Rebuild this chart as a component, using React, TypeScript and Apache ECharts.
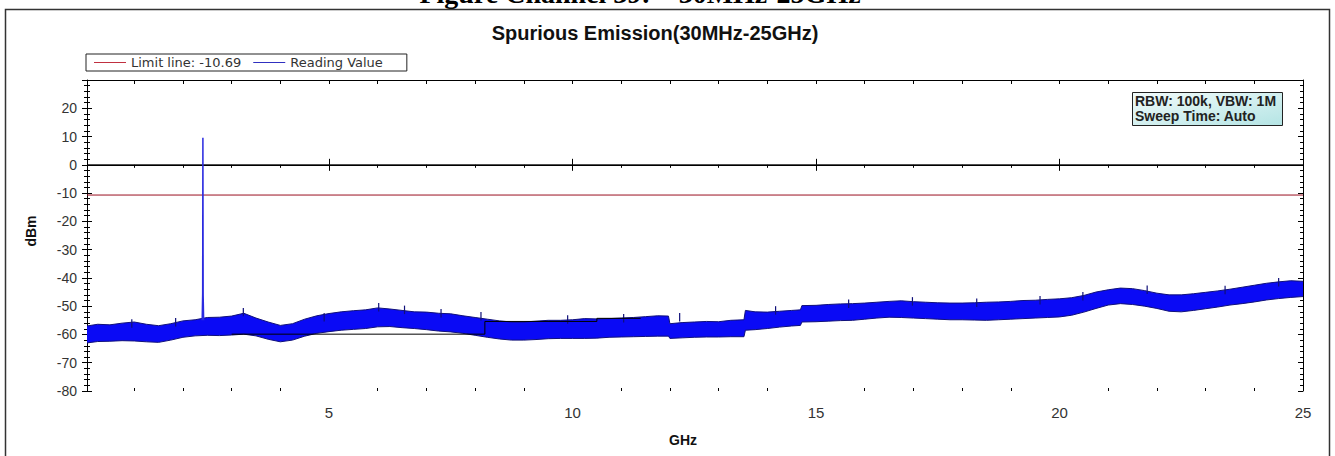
import React, { useEffect, useRef } from "react";
import * as echarts from "echarts";

// ---- data ----
const freqGHz = [
  0.03, 0.25, 0.5, 0.75, 1.0, 1.25, 1.5, 1.75, 2.0, 2.25, 2.5, 2.75, 3.0, 3.25, 3.5, 3.75, 4.0, 4.25, 4.5, 4.75,
  5.0, 5.25, 5.5, 5.75, 6.0, 6.25, 6.5, 6.75, 7.0, 7.25, 7.5, 7.75, 8.0, 8.25, 8.5, 8.75, 9.0, 9.25, 9.5, 9.75,
  10.0, 10.25, 10.5, 10.75, 11.0, 11.25, 11.5, 11.75, 11.97, 12.0, 12.25, 12.5, 12.75, 13.0, 13.25, 13.52, 13.55,
  13.75, 14.0, 14.25, 14.5, 14.68, 14.71, 15.0, 15.25, 15.5, 15.75, 16.0, 16.25, 16.5, 16.75, 17.0, 17.25, 17.5,
  17.75, 18.0, 18.25, 18.5, 18.75, 19.0, 19.25, 19.5, 19.75, 20.0, 20.25, 20.5, 20.75, 21.0, 21.25, 21.5, 21.75,
  22.0, 22.25, 22.5, 22.75, 23.0, 23.25, 23.5, 23.75, 24.0, 24.25, 24.5, 24.75, 25.0,
];
const readingTop = [
  -57.0, -56.4, -56.6, -56.0, -55.6, -56.4, -56.9, -56.2, -55.2, -54.8, -54.0, -53.9, -53.5, -52.5, -54.2, -55.6,
  -56.8, -56.2, -54.6, -53.4, -52.6, -52.0, -51.6, -51.3, -50.6, -51.0, -51.5, -52.0, -52.1, -52.5, -52.7, -53.4,
  -54.0, -54.6, -55.2, -55.6, -55.6, -55.3, -55.0, -55.0, -54.8, -54.4, -54.5, -54.4, -54.2, -54.0, -53.7, -53.4,
  -53.5, -56.2, -55.8, -55.6, -55.4, -55.5, -55.0, -54.8, -51.5, -52.0, -52.1, -51.8, -51.5, -51.3, -49.8, -49.7,
  -49.4, -49.2, -49.1, -48.9, -48.6, -48.3, -48.1, -48.4, -48.6, -48.8, -48.9, -48.9, -48.8, -48.6, -48.5, -48.3,
  -48.0, -47.9, -47.6, -47.4, -47.0, -46.2, -45.0, -44.2, -43.6, -43.8, -44.5, -45.4, -46.0, -46.0, -45.6, -45.1,
  -44.6, -44.0, -43.3, -42.6, -41.9, -41.4, -41.0, -41.2,
];
const readingBottom = [
  -63.0, -62.5, -62.4, -62.2, -62.3, -62.6, -62.8, -62.0, -61.0, -60.5, -60.3, -60.4, -60.2, -59.9, -60.5, -61.7,
  -62.6, -62.0, -60.6, -59.6, -59.0, -58.5, -58.2, -57.9, -57.3, -57.2, -57.6, -57.9, -58.3, -58.8, -59.1, -59.6,
  -60.3, -61.0, -61.6, -62.0, -62.0, -61.8, -61.5, -61.4, -61.4, -61.4, -61.3, -61.0, -60.9, -60.8, -60.7, -60.6,
  -60.6, -61.4, -61.2, -61.0, -60.9, -60.9, -60.8, -60.8, -58.5, -58.3, -57.9, -57.4, -57.0, -56.8, -55.6, -55.5,
  -55.3, -55.1, -55.0, -54.6, -54.2, -53.9, -54.0, -54.2, -54.4, -54.6, -54.8, -54.8, -54.9, -55.0, -54.8, -54.6,
  -54.4, -54.2, -54.0, -53.8, -53.2, -52.1, -50.8, -49.6, -49.1, -49.4, -50.0, -50.8, -51.8, -52.0, -51.5, -50.9,
  -50.3, -49.6, -49.1, -48.5, -47.8, -47.3, -46.9, -46.6,
];
// isolated noise peaks standing above the band
const peakFreq = [0.95, 1.85, 3.24, 4.9, 6.02, 6.55, 7.3, 8.12, 9.9, 11.05, 12.2, 14.17, 15.67, 16.98, 18.3, 19.6, 20.48, 21.8, 23.4, 24.5];
const peakLevel = [-54.6, -54.2, -50.6, -52.4, -48.9, -49.8, -51.0, -52.1, -53.2, -52.8, -52.4, -50.0, -47.6, -46.8, -47.3, -46.4, -45.0, -42.7, -42.8, -40.0];
const spikeFreq = [2.395, 2.405, 2.41, 2.415, 2.425];
const spikeLevel = [-55.0, -45.5, 9.6, -46.0, -55.0];
const blackTraceFreq = [3.0, 8.2, 8.2, 10.5, 10.5, 11.4];
const blackTraceLevel = [-59.9, -59.9, -55.4, -55.4, -54.3, -54.3];
const limitValue = -10.69;
const zeroValue = 0;
const xRange = [0.03, 25];
const xMajorTicks = [5, 10, 15, 20, 25];
const xMinorTicks = [1, 2, 3, 4, 6, 7, 8, 9, 11, 12, 13, 14, 16, 17, 18, 19, 21, 22, 23, 24];
const xTopTicks = [1, 2, 3, 4, 5, 6, 7, 8, 9, 10, 11, 12, 13, 14, 15, 16, 17, 18, 19, 20, 21, 22, 23, 24];
const yMin = -80;
const yMax = 30;
const yInterval = 10;

const LIMIT_NAME = "Limit line: -10.69";
const READING_NAME = "Reading Value";
const SANS = "Liberation Sans";

export default function App() {
  const ref = useRef<HTMLDivElement>(null);

  useEffect(() => {
    if (!ref.current) return;
    const chart = echarts.init(ref.current, undefined, { renderer: "svg" });

    const pair = (xs: number[], ys: number[]) => xs.map((x, i) => [x, ys[i]]);

    const xBase = {
      type: "value" as const,
      min: xRange[0],
      max: xRange[1],
      gridIndex: 0,
      splitLine: { show: false },
    };
    const yBase = {
      type: "value" as const,
      min: yMin,
      max: yMax,
      interval: yInterval,
      splitLine: { show: false },
    };
    const blk = { color: "#000", width: 1 };
    const edge = "#10107a";

    chart.setOption({
      animation: false,
      backgroundColor: "#fff",
      grid: { left: 87, right: 32, top: 80, bottom: 65, containLabel: false },
      legend: {
        left: 86,
        top: 54,
        data: [
          { name: LIMIT_NAME, icon: "rect", itemStyle: { color: "#c03040" } },
          { name: READING_NAME, icon: "rect", itemStyle: { color: "#3030c0" } },
        ],
        itemWidth: 32,
        itemHeight: 1,
        itemGap: 12,
        borderColor: "#222",
        borderWidth: 1,
        borderRadius: 0,
        padding: [2, 24, 2, 8],
        selectedMode: false,
        textStyle: { fontSize: 13, color: "#333", fontFamily: "DejaVu Sans" },
      },
      xAxis: [
        {
          ...xBase,
          position: "bottom",
          axisLine: { show: true, lineStyle: blk },
          axisTick: { show: true, inside: false, length: 6, lineStyle: blk, customValues: xMajorTicks },
          axisLabel: {
            show: true,
            customValues: xMajorTicks,
            margin: 14,
            fontSize: 15,
            color: "#333",
            fontFamily: SANS,
          },
        },
        {
          ...xBase,
          position: "bottom",
          axisLine: { show: false },
          axisTick: { show: true, inside: true, length: 6, lineStyle: blk, customValues: xMajorTicks },
          axisLabel: { show: false },
        },
        {
          ...xBase,
          position: "bottom",
          axisLine: { show: false },
          axisTick: { show: true, inside: false, length: 3, lineStyle: blk, customValues: xMinorTicks },
          axisLabel: { show: false },
        },
        {
          ...xBase,
          position: "bottom",
          axisLine: { show: false },
          axisTick: { show: true, inside: true, length: 3, lineStyle: blk, customValues: xMinorTicks },
          axisLabel: { show: false },
        },
        {
          ...xBase,
          position: "top",
          axisLine: { show: true, lineStyle: blk },
          axisTick: { show: true, inside: true, length: 4, lineStyle: blk, customValues: xTopTicks },
          axisLabel: { show: false },
        },
      ],
      yAxis: [
        {
          ...yBase,
          position: "left",
          axisLine: { show: true, lineStyle: blk },
          axisTick: { show: true, inside: false, length: 5, lineStyle: blk },
          minorTick: { show: true, splitNumber: 5, length: 3, lineStyle: blk },
          axisLabel: {
            show: true,
            margin: 10,
            fontSize: 14,
            color: "#333",
            fontFamily: SANS,
            formatter: (v: number) => (v === yMax ? "" : String(v)),
          },
        },
        {
          ...yBase,
          position: "left",
          axisLine: { show: false },
          axisTick: { show: true, inside: true, length: 5, lineStyle: blk },
          minorTick: { show: true, splitNumber: 5, length: 3, lineStyle: blk },
          axisLabel: { show: false },
        },
        {
          ...yBase,
          position: "right",
          axisLine: { show: true, lineStyle: blk },
          axisTick: { show: true, inside: true, length: 5, lineStyle: blk },
          minorTick: { show: true, splitNumber: 5, length: 3, lineStyle: blk },
          axisLabel: { show: false },
        },
      ],
      series: [
        {
          name: "zero",
          type: "line",
          data: [
            [xRange[0], zeroValue],
            [xRange[1], zeroValue],
          ],
          symbol: "none",
          silent: true,
          lineStyle: { color: "#000", width: 1 },
          itemStyle: { color: "#000" },
        },
        {
          name: LIMIT_NAME,
          type: "line",
          data: [
            [xRange[0], limitValue],
            [xRange[1], limitValue],
          ],
          symbol: "none",
          silent: true,
          lineStyle: { color: "#9a1020", width: 1 },
          itemStyle: { color: "#c03040" },
        },
        {
          name: "trace2",
          type: "line",
          data: pair(blackTraceFreq, blackTraceLevel),
          symbol: "none",
          silent: true,
          lineStyle: { color: "#000", width: 1 },
          itemStyle: { color: "#000" },
        },
        {
          name: READING_NAME,
          type: "custom",
          clip: true,
          silent: true,
          data: [[freqGHz[0], readingTop[0]]],
          encode: { x: 0, y: 1 },
          itemStyle: { color: "#3030c0" },
          renderItem: (_params: any, api: any) => {
            const top = freqGHz.map((f, i) => api.coord([f, readingTop[i]]));
            const bot = freqGHz.map((f, i) => api.coord([f, readingBottom[i]]));
            const poly = top.concat(bot.slice().reverse());
            return {
              type: "group",
              children: [
                { type: "polygon", shape: { points: poly }, style: { fill: "#0a0af5", stroke: "none" } },
                { type: "polyline", shape: { points: top }, style: { stroke: edge, lineWidth: 1, fill: "none" } },
                { type: "polyline", shape: { points: bot }, style: { stroke: edge, lineWidth: 1, fill: "none" } },
              ],
            };
          },
        },
        {
          name: READING_NAME,
          type: "custom",
          clip: true,
          silent: true,
          data: pair(peakFreq, peakLevel),
          encode: { x: 0, y: 1 },
          itemStyle: { color: "#3030c0" },
          renderItem: (_params: any, api: any) => {
            const p = api.coord([api.value(0), api.value(1)]);
            const q = api.coord([api.value(0), api.value(1) - 3]);
            return {
              type: "line",
              shape: { x1: p[0], y1: p[1], x2: q[0], y2: q[1] },
              style: { stroke: edge, lineWidth: 1.2 },
            };
          },
        },
        {
          name: READING_NAME,
          type: "line",
          data: pair(spikeFreq, spikeLevel),
          symbol: "none",
          silent: true,
          lineStyle: { color: "#2a2ae0", width: 1.5 },
          itemStyle: { color: "#3030c0" },
        },
      ],
      graphic: [
        {
          type: "rect",
          silent: true,
          shape: { x: 5.5, y: 9.5, width: 1324, height: 460 },
          style: { fill: "none", stroke: "#333", lineWidth: 1.5 },
          z: 100,
        },
        {
          type: "text",
          silent: true,
          x: 640,
          y: 7,
          style: {
            text: "Figure Channel 39: – 30MHz-25GHz",
            font: 'bold 28px "Liberation Serif"',
            fill: "#000",
            textAlign: "center",
            textVerticalAlign: "bottom",
          },
        },
        {
          type: "text",
          silent: true,
          x: 655,
          y: 33,
          style: {
            text: "Spurious Emission(30MHz-25GHz)",
            font: `bold 20px "${SANS}"`,
            fill: "#111",
            textAlign: "center",
            textVerticalAlign: "middle",
          },
        },
        {
          type: "text",
          silent: true,
          x: 31,
          y: 231,
          rotation: Math.PI / 2,
          style: {
            text: "dBm",
            font: `bold 14px "${SANS}"`,
            fill: "#111",
            textAlign: "center",
            textVerticalAlign: "middle",
          },
        },
        {
          type: "text",
          silent: true,
          x: 683,
          y: 440,
          style: {
            text: "GHz",
            font: `bold 14px "${SANS}"`,
            fill: "#111",
            textAlign: "center",
            textVerticalAlign: "middle",
          },
        },
        {
          type: "group",
          x: 1132,
          y: 92,
          silent: true,
          z: 50,
          children: [
            {
              type: "rect",
              shape: { x: 0.5, y: 0.5, width: 150, height: 33 },
              style: {
                fill: new echarts.graphic.LinearGradient(0, 0, 1, 1, [
                  { offset: 0, color: "#f2fbfb" },
                  { offset: 1, color: "#b4e4e4" },
                ]),
                stroke: "#222",
                lineWidth: 1,
              },
            },
            {
              type: "text",
              x: 3,
              y: 9,
              style: {
                text: "RBW: 100k, VBW: 1M",
                font: `bold 14px "${SANS}"`,
                fill: "#222",
                textVerticalAlign: "middle",
              },
            },
            {
              type: "text",
              x: 3,
              y: 24,
              style: {
                text: "Sweep Time: Auto",
                font: `bold 14px "${SANS}"`,
                fill: "#222",
                textVerticalAlign: "middle",
              },
            },
          ],
        },
      ],
    });

    return () => chart.dispose();
  }, []);

  return (
    <div
      ref={ref}
      style={{ position: "absolute", left: 0, top: 0, width: 1335, height: 456, background: "#fff" }}
    />
  );
}
